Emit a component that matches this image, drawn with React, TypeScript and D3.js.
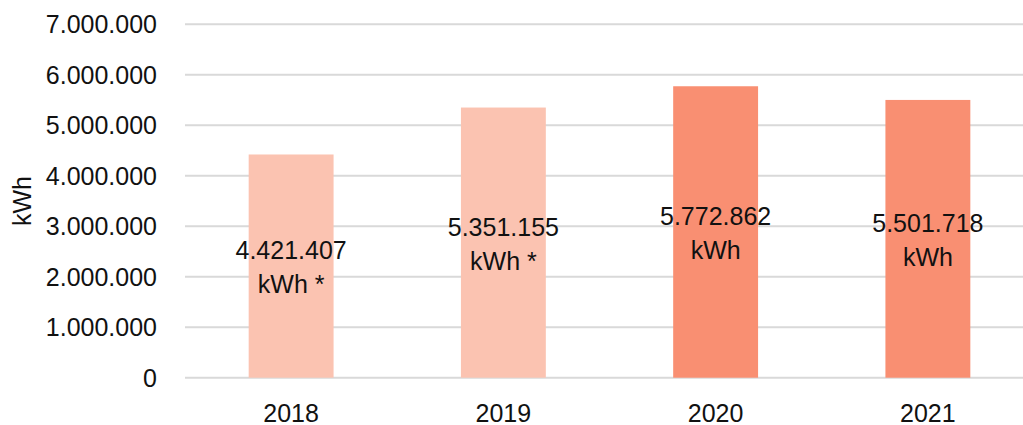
import React from 'react';
import * as d3 from 'd3';

// values
const years = ['2018', '2019', '2020', '2021'];
const energyKwh = [4421407, 5351155, 5772862, 5501718];
const labelSuffix = ['kWh *', 'kWh *', 'kWh', 'kWh'];
const barColors = ['#FBC3B1', '#FBC3B1', '#F98F72', '#F98F72'];
const yTicks = [0, 1000000, 2000000, 3000000, 4000000, 5000000, 6000000, 7000000];

const W = 1023;
const H = 425;
const FONT = "'Liberation Sans', Arial, sans-serif";

// German style thousands separator
const fmt = (v: number) => d3.format(',')(v).replace(/,/g, '.');

export default function App() {
  const x = d3.scaleBand<string>().domain(years).range([185, 1034]).paddingInner(0.6).paddingOuter(0.3);
  const y = d3.scaleLinear().domain([0, 7000000]).range([377.7, 24.3]);

  return (
    <svg
      width={W}
      height={H}
      style={{ position: 'absolute', left: 0, top: 0, background: '#fff' }}
      fontFamily={FONT}
    >
      {/* gridlines */}
      {yTicks.map((t) => (
        <line key={'g' + t} x1={185} x2={W} y1={y(t)} y2={y(t)} stroke="#D9D9D9" strokeWidth={2} />
      ))}

      {/* y tick labels */}
      {yTicks.map((t) => (
        <text key={'t' + t} x={157} y={y(t) + 9} textAnchor="end" fontSize={25} fill="#111">
          {fmt(t)}
        </text>
      ))}

      {/* y axis title */}
      <text transform="translate(31,201) rotate(-90)" textAnchor="middle" fontSize={25} fill="#111">
        kWh
      </text>

      {/* bars */}
      {years.map((yr, i) => (
        <rect
          key={'b' + yr}
          x={x(yr)}
          y={y(energyKwh[i])}
          width={x.bandwidth()}
          height={y(0) - y(energyKwh[i])}
          fill={barColors[i]}
        />
      ))}

      {/* data labels, centred in the bar */}
      {years.map((yr, i) => {
        const cx = (x(yr) as number) + x.bandwidth() / 2;
        const mid = (y(energyKwh[i]) + y(0)) / 2;
        return (
          <text key={'l' + yr} textAnchor="middle" fontSize={25} fill="#111">
            <tspan x={cx} y={mid - 7}>{fmt(energyKwh[i])}</tspan>
            <tspan x={cx} y={mid + 27}>{labelSuffix[i]}</tspan>
          </text>
        );
      })}

      {/* x labels */}
      {years.map((yr) => (
        <text
          key={'x' + yr}
          x={(x(yr) as number) + x.bandwidth() / 2}
          y={422}
          textAnchor="middle"
          fontSize={25}
          fill="#111"
        >
          {yr}
        </text>
      ))}
    </svg>
  );
}
